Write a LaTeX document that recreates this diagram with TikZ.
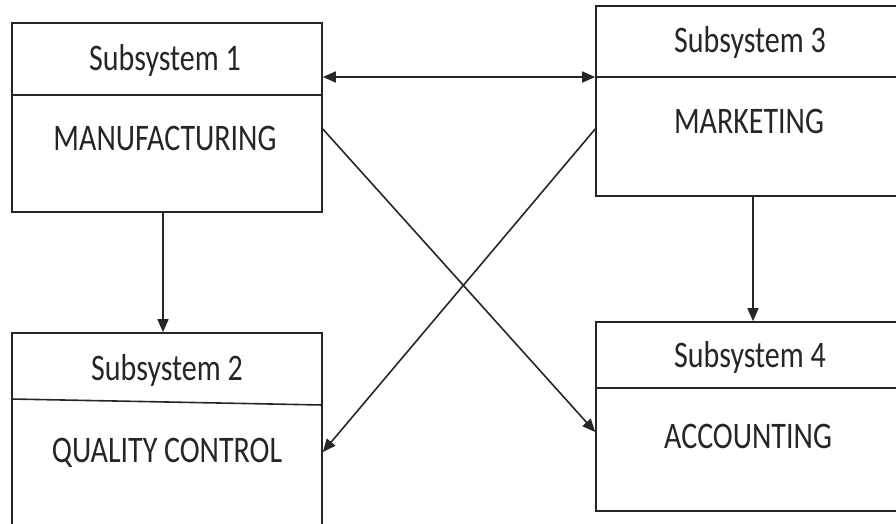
\documentclass[tikz,border=0pt]{standalone}
\usepackage{fontspec}
\setmainfont{Carlito}
\usetikzlibrary{arrows.meta}
\definecolor{ink}{gray}{0.15}
\newcommand{\tallt}[1]{\scalebox{1}[1.25]{#1}}
\tikzset{
  sysbox/.style={draw=ink, line width=1.6pt, rectangle, inner sep=0pt},
  divider/.style={draw=ink, line width=1.6pt},
  label/.style={anchor=base, inner sep=0pt, text=ink, font=\fontsize{30}{30}\selectfont},
  link/.style={draw=ink, line width=1.6pt, -{Triangle[length=13pt,width=11pt]}},
  dlink/.style={draw=ink, line width=1.6pt, {Triangle[length=13pt,width=11pt]}-{Triangle[length=13pt,width=11pt]}}
}
\begin{document}
\begin{tikzpicture}[x=1pt,y=-1pt]
  \useasboundingbox (0,0) rectangle (896,523);
  \begin{scope}
    \clip (0,0) rectangle (896,523);
    % subsystem boxes
    \node[sysbox, minimum width=310pt, minimum height=189pt] (b1) at (167,117.5) {};
    \node[sysbox, minimum width=310pt, minimum height=200pt] (b2) at (167,433) {};
    \node[sysbox, minimum width=310pt, minimum height=190pt] (b3) at (751,101) {};
    \node[sysbox, minimum width=310pt, minimum height=189pt] (b4) at (751,416.5) {};
    % header dividers
    \draw[divider] (b1.west |- 0,95) -- (b1.east |- 0,95);
    \draw[divider] (b2.west |- 0,399) -- (b2.east |- 0,405);
    \draw[divider] (b3.west |- 0,77) -- (b3.east |- 0,77);
    \draw[divider] (b4.west |- 0,388) -- (b4.east |- 0,388);
  \end{scope}
  % titles and names
  \node[label] (t1) at (165,70) {\tallt{Subsystem 1}};
  \node[label] (n1) at (165,150) {\tallt{MANUFACTURING}};
  \node[label] (t2) at (167,380) {\tallt{Subsystem 2}};
  \node[label] (n2) at (167,462) {\tallt{QUALITY CONTROL}};
  \node[label] (t3) at (750,52) {\tallt{Subsystem 3}};
  \node[label] (n3) at (749,133) {\tallt{MARKETING}};
  \node[label] (t4) at (750,367) {\tallt{Subsystem 4}};
  \node[label] (n4) at (748,448) {\tallt{ACCOUNTING}};
  % connectors
  \draw[dlink] (b1.east |- 0,77) -- (b3.west |- 0,77);
  \draw[link] (b1.south -| 163,0) -- (b2.north -| 163,0);
  \draw[link] (b3.south -| 753,0) -- (b4.north -| 753,0);
  \draw[link] (b1.east |- 0,129) -- (b4.west |- 0,432);
  \draw[link] (b3.west |- 0,129) -- (b2.east |- 0,452);
\end{tikzpicture}
\end{document}
